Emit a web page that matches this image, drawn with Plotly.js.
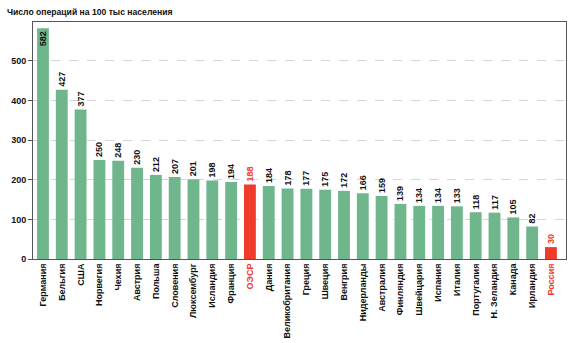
<!DOCTYPE html>
<html><head><meta charset="utf-8">
<script src="https://cdn.plot.ly/plotly-3.0.1.min.js"></script>
<style>html,body{margin:0;padding:0;background:#fff}#c{width:570px;height:343px}</style>
</head><body><div id="c"></div>
<script>
var countries = ["Германия","Бельгия","США","Норвегия","Чехия","Австрия","Польша","Словения","Люксембург","Исландия","Франция","ОЭСР","Дания","Великобритания","Греция","Швеция","Венгрия","Нидерланды","Австралия","Финляндия","Швейцария","Испания","Италия","Португалия","Н. Зеландия","Канада","Ирландия","Россия"];
var values = [582,427,377,250,248,230,212,207,201,198,194,188,184,178,177,175,172,166,159,139,134,134,133,118,117,105,82,30];
var highlighted = ["ОЭСР","Россия"];
var yTicks = [0,100,200,300,400,500];

var GREEN = "#70b68d", RED = "#ee3b2b";
var FONT = "Liberation Sans, Arial, sans-serif";
var idx = countries.map(function(_, i){ return i; });
var colors = countries.map(function(c){ return highlighted.indexOf(c) >= 0 ? RED : GREEN; });
var textColors = countries.map(function(c){ return highlighted.indexOf(c) >= 0 ? RED : "#111"; });
var positions = values.map(function(v){ return v > 550 ? "inside" : "outside"; });
var tickText = countries.map(function(c){
  return highlighted.indexOf(c) >= 0 ? '<span style="color:' + RED + '">' + c + '</span>' : c;
});

var trace = {
  type: "bar",
  x: idx,
  y: values,
  width: 0.63,
  marker: {color: colors, line: {width: 0}},
  text: values.map(String),
  textposition: positions,
  insidetextanchor: "end",
  textangle: -90,
  constraintext: "none",
  textfont: {family: FONT, size: 9, weight: "bold", color: textColors},
  outsidetextfont: {family: FONT, size: 9, weight: "bold", color: textColors},
  insidetextfont: {family: FONT, size: 9, weight: "bold", color: textColors},
  cliponaxis: false,
  hoverinfo: "x+y"
};

var layout = {
  width: 570, height: 343,
  margin: {l: 33, r: 4, t: 22, b: 84},
  paper_bgcolor: "#fff", plot_bgcolor: "#fff",
  showlegend: false,
  title: {
    text: "Число операций на 100 тыс населения",
    x: 7/570, xanchor: "left", xref: "container",
    y: 1 - 12/343, yanchor: "middle", yref: "container",
    font: {family: FONT, size: 8.6, weight: "bold", color: "#111"}
  },
  xaxis: {
    range: [-0.53, 27.8],
    tickmode: "array", tickvals: idx, ticktext: tickText,
    tickangle: -90,
    tickfont: {family: FONT, size: 9, weight: "bold", color: "#111"},
    showgrid: false, zeroline: false,
    showline: true, linecolor: "#555", linewidth: 1, mirror: true,
    ticks: ""
  },
  yaxis: {
    range: [0, 598],
    tickmode: "array", tickvals: yTicks,
    tickfont: {family: FONT, size: 9, weight: "bold", color: "#111"},
    ticks: "outside", ticklen: 4, tickcolor: "#555",
    showgrid: true, gridcolor: "#d4d4d4", griddash: "dash", gridwidth: 1,
    zeroline: false,
    showline: true, linecolor: "#555", linewidth: 1, mirror: true
  },
  bargap: 0.3
};

Plotly.newPlot("c", [trace], layout, {staticPlot: true, displayModeBar: false});
</script>
</body></html>
